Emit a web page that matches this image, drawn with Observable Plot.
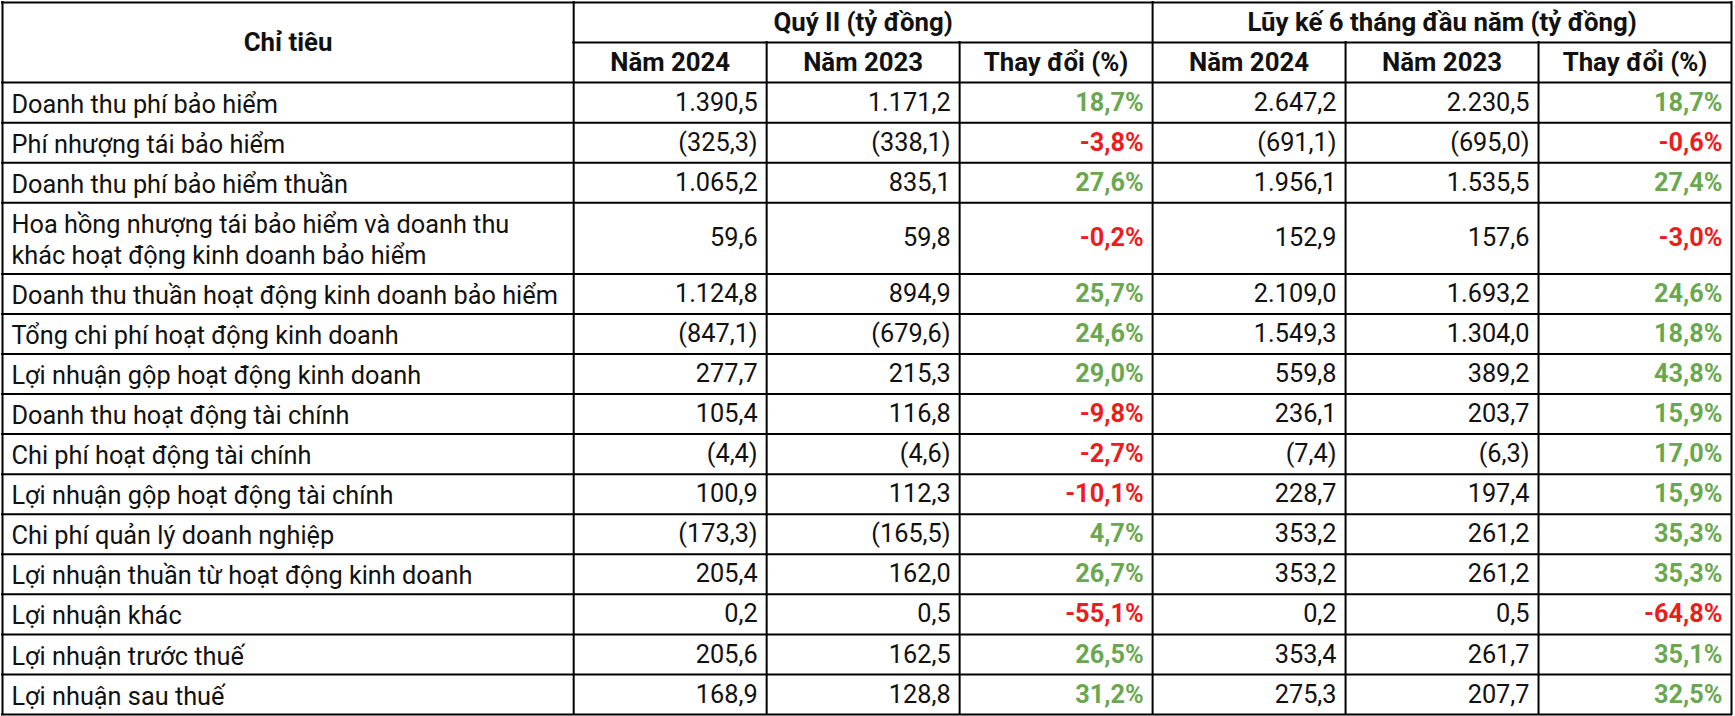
<!DOCTYPE html>
<html>
<head>
<meta charset="utf-8">
<script src="https://cdn.jsdelivr.net/npm/d3@7"></script>
<script src="https://cdn.jsdelivr.net/npm/@observablehq/plot@0.6"></script>
<style>
  html, body { margin: 0; padding: 0; background: #fff; }
  #chart svg { display: block; }
</style>
</head>
<body>
<div id="chart"></div>
<script>
// ---------- DATA ----------
const firstHeader = "Chỉ tiêu";
const groupHeaders = ["Quý II (tỷ đồng)", "Lũy kế 6 tháng đầu năm (tỷ đồng)"];
const subHeaders = ["Năm 2024", "Năm 2023", "Thay đổi (%)"];

const labels = [
  "Doanh thu phí bảo hiểm",
  "Phí nhượng tái bảo hiểm",
  "Doanh thu phí bảo hiểm thuần",
  "Hoa hồng nhượng tái bảo hiểm và doanh thu\nkhác hoạt động kinh doanh bảo hiểm",
  "Doanh thu thuần hoạt động kinh doanh bảo hiểm",
  "Tổng chi phí hoạt động kinh doanh",
  "Lợi nhuận gộp hoạt động kinh doanh",
  "Doanh thu hoạt động tài chính",
  "Chi phí hoạt động tài chính",
  "Lợi nhuận gộp hoạt động tài chính",
  "Chi phí quản lý doanh nghiệp",
  "Lợi nhuận thuần từ hoạt động kinh doanh",
  "Lợi nhuận khác",
  "Lợi nhuận trước thuế",
  "Lợi nhuận sau thuế"
];

const q2_2024   = [1390.5, -325.3, 1065.2, 59.6, 1124.8, -847.1, 277.7, 105.4, -4.4, 100.9, -173.3, 205.4, 0.2, 205.6, 168.9];
const q2_2023   = [1171.2, -338.1, 835.1, 59.8, 894.9, -679.6, 215.3, 116.8, -4.6, 112.3, -165.5, 162.0, 0.5, 162.5, 128.8];
const q2_change = [18.7, -3.8, 27.6, -0.2, 25.7, 24.6, 29.0, -9.8, -2.7, -10.1, 4.7, 26.7, -55.1, 26.5, 31.2];
const h1_2024   = [2647.2, -691.1, 1956.1, 152.9, 2109.0, 1549.3, 559.8, 236.1, -7.4, 228.7, 353.2, 353.2, 0.2, 353.4, 275.3];
const h1_2023   = [2230.5, -695.0, 1535.5, 157.6, 1693.2, 1304.0, 389.2, 203.7, -6.3, 197.4, 261.2, 261.2, 0.5, 261.7, 207.7];
const h1_change = [18.7, -0.6, 27.4, -3.0, 24.6, 18.8, 43.8, 15.9, 17.0, 15.9, 35.3, 35.3, -64.8, 35.1, 32.5];

// ---------- LAYOUT (in table units) ----------
const colWidths = [2.96, 1, 1, 1, 1, 1, 1];
const colEdges = [0];
colWidths.forEach(w => colEdges.push(colEdges[colEdges.length - 1] + w));
const totalW = colEdges[colEdges.length - 1];

const rowHeights = [1, 1].concat(labels.map(l => l.includes("\n") ? 1.775 : 1));
const rowEdges = [0];
rowHeights.forEach(h => rowEdges.push(rowEdges[rowEdges.length - 1] + h));
const totalH = rowEdges[rowEdges.length - 1];

const vi = d3.formatLocale({decimal: ",", thousands: ".", grouping: [3], currency: ["", ""]});
const fNum = vi.format(",.1f");
const fmtValue = v => v < 0 ? "(" + fNum(-v) + ")" : fNum(v);
const fmtPct = v => (v < 0 ? "-" : "") + fNum(Math.abs(v)) + "%";

// ---------- GRID LINES ----------
const hLines = rowEdges.map((y, i) => ({y, x1: i === 1 ? colEdges[1] : 0, x2: totalW}));
const vLines = colEdges.map((x, i) => ({
  x,
  y1: (i === 2 || i === 3 || i === 5 || i === 6) ? rowEdges[1] : 0,
  y2: totalH
}));

// ---------- CELLS ----------
const mid = (a, b) => (a + b) / 2;
const headerCells = [
  {x: mid(colEdges[0], colEdges[1]), y: mid(rowEdges[0], rowEdges[2]), text: firstHeader},
  {x: mid(colEdges[1], colEdges[4]), y: mid(rowEdges[0], rowEdges[1]), text: groupHeaders[0]},
  {x: mid(colEdges[4], colEdges[7]), y: mid(rowEdges[0], rowEdges[1]), text: groupHeaders[1]}
];
for (let g = 0; g < 2; g++) {
  subHeaders.forEach((s, k) => {
    const c = 1 + g * 3 + k;
    headerCells.push({x: mid(colEdges[c], colEdges[c + 1]), y: mid(rowEdges[1], rowEdges[2]), text: s});
  });
}

const labelCells = labels.map((l, i) => ({x: colEdges[0], y: mid(rowEdges[i + 2], rowEdges[i + 3]), text: l}));

const valueCols = [[q2_2024, 1], [q2_2023, 2], [h1_2024, 4], [h1_2023, 5]];
const valueCells = [];
valueCols.forEach(([arr, c]) => arr.forEach((v, i) => valueCells.push({
  x: colEdges[c + 1], y: mid(rowEdges[i + 2], rowEdges[i + 3]), text: fmtValue(v)
})));

const pctCells = [];
[[q2_change, 3], [h1_change, 6]].forEach(([arr, c]) => arr.forEach((v, i) => pctCells.push({
  x: colEdges[c + 1], y: mid(rowEdges[i + 2], rowEdges[i + 3]), text: fmtPct(v), neg: v < 0
})));

const FONT = "Roboto, 'Noto Sans', sans-serif";
const FS = 25.3;
const HFS = 25.8;

const chart = Plot.plot({
  width: 1735,
  height: 716,
  marginTop: 0, marginBottom: 0, marginLeft: 0, marginRight: 0,
  x: {domain: [0, totalW], range: [2, 1731], axis: null},
  y: {domain: [0, totalH], range: [2, 714], axis: null},
  style: {background: "#ffffff", fontFamily: FONT},
  marks: [
    Plot.ruleY(hLines, {y: "y", x1: "x1", x2: "x2", stroke: "#000", strokeWidth: 2, strokeLinecap: "square"}),
    Plot.ruleX(vLines, {x: "x", y1: "y1", y2: "y2", stroke: "#000", strokeWidth: 2, strokeLinecap: "square"}),
    Plot.text(headerCells, {x: "x", y: "y", text: "text", fill: "#111", fontSize: HFS, fontWeight: "bold", fontFamily: FONT}),
    Plot.text(labelCells, {x: "x", y: "y", text: "text", textAnchor: "start", dx: 9, lineHeight: 1.25, fill: "#111", fontSize: FS, fontFamily: FONT}),
    Plot.text(valueCells, {x: "x", y: "y", text: "text", textAnchor: "end", dx: -9, fill: "#111", fontSize: FS, fontFamily: FONT}),
    Plot.text(pctCells.filter(d => !d.neg), {x: "x", y: "y", text: "text", textAnchor: "end", dx: -9, fill: "#6aa84f", fontSize: FS, fontWeight: "bold", fontFamily: FONT}),
    Plot.text(pctCells.filter(d => d.neg), {x: "x", y: "y", text: "text", textAnchor: "end", dx: -9, fill: "#ee1c1c", fontSize: FS, fontWeight: "bold", fontFamily: FONT})
  ]
});
document.getElementById("chart").appendChild(chart);
</script>
</body>
</html>
